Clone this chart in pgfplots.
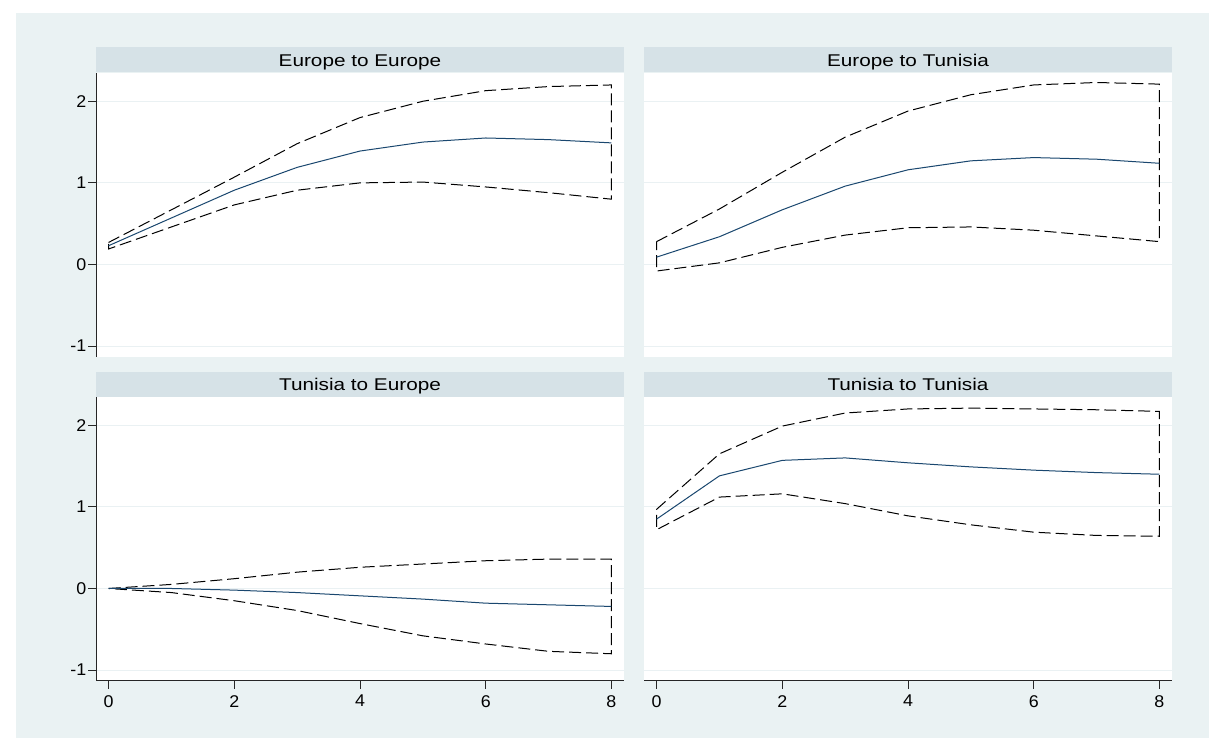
\documentclass[border=0pt]{standalone}
\usepackage{fontspec}
\setmainfont{Liberation Sans}[FakeStretch=1.22]
\newfontfamily\tickfont{Liberation Sans}[FakeStretch=1.05]
\usepackage{pgfplots}
\pgfplotsset{compat=1.18}
\definecolor{ltbg}{RGB}{234,242,243}
\definecolor{bgray}{RGB}{214,226,231}
\definecolor{navy}{RGB}{26,71,111}
\definecolor{gridc}{RGB}{234,241,243}
\pgfplotsset{
  every axis title shift=0pt,
  irf/.style={
    scale only axis, width=528pt, height=284pt,
    xmin=-0.2, xmax=8.2, ymin=-1.13, ymax=2.35,
    xtick={0,2,4,6,8}, ytick={-1,0,1,2},
    axis x line*=bottom, axis y line*=left,
    axis line style={-, line width=0.9pt, black!85},
    tick align=outside, major tick length=8pt,
    tick style={line width=0.9pt, black!85},
    ymajorgrids, major grid style={gridc, line width=1pt},
    axis background/.style={fill=white},
    ticklabel style={font=\tickfont\fontsize{17}{20}\selectfont},
    yticklabel style={inner xsep=1.5pt},
    xticklabel style={yshift=-3pt},
    /pgf/number format/assume math mode=true,
    title style={at={(0.5,1)}, anchor=south, fill=bgray, minimum width=528pt,
      minimum height=25pt, inner sep=0pt, text height=12.2pt, text depth=0pt,
      yshift=0pt, font=\fontsize{17}{20}\selectfont},
    clip=false,
  },
  noxaxis/.style={x axis line style={draw=none}, xticklabels={}, xtick style={draw=none}},
  noyaxis/.style={y axis line style={draw=none}, yticklabels={}, ytick style={draw=none}},
  cline/.style={navy, line width=1pt, no marks},
  band/.style={black, line width=1pt, no marks, dash pattern=on 12pt off 5pt},
}
\begin{document}
\begin{tikzpicture}
\useasboundingbox (0,0) rectangle (1209pt,-738pt);
\fill[ltbg] (16pt,-13pt) rectangle (1209pt,-738pt);

% Europe to Europe
\begin{axis}[irf, noxaxis, at={(96pt,-72.7pt)}, anchor=north west, title={Europe to Europe}]
\addplot[band] coordinates {(0,0.27) (1,0.67) (2,1.07) (3,1.48) (4,1.80) (5,2.00) (6,2.13) (7,2.18) (8,2.20)
  (8,0.80) (7,0.88) (6,0.95) (5,1.01) (4,1.00) (3,0.91) (2,0.73) (1,0.46) (0,0.19) (0,0.27)};
\addplot[cline] coordinates {(0,0.23) (1,0.57) (2,0.91) (3,1.19) (4,1.39) (5,1.50) (6,1.55) (7,1.53) (8,1.49)};
\end{axis}

% Europe to Tunisia
\begin{axis}[irf, noxaxis, noyaxis, at={(644pt,-72.7pt)}, anchor=north west, title={Europe to Tunisia}]
\addplot[band] coordinates {(0,0.28) (1,0.68) (2,1.13) (3,1.56) (4,1.88) (5,2.08) (6,2.20) (7,2.23) (8,2.21)
  (8,0.28) (7,0.35) (6,0.42) (5,0.46) (4,0.45) (3,0.36) (2,0.21) (1,0.02) (0,-0.08) (0,0.28)};
\addplot[cline] coordinates {(0,0.09) (1,0.34) (2,0.67) (3,0.96) (4,1.16) (5,1.27) (6,1.31) (7,1.29) (8,1.24)};
\end{axis}

% Tunisia to Europe
\begin{axis}[irf, at={(96pt,-396.7pt)}, anchor=north west, title={Tunisia to Europe}]
\addplot[band] coordinates {(0,0) (1,0.05) (2,0.12) (3,0.20) (4,0.26) (5,0.30) (6,0.34) (7,0.36) (8,0.36)
  (8,-0.80) (7,-0.77) (6,-0.68) (5,-0.58) (4,-0.43) (3,-0.27) (2,-0.15) (1,-0.05) (0,0)};
\addplot[cline] coordinates {(0,0) (1,0.00) (2,-0.02) (3,-0.05) (4,-0.09) (5,-0.13) (6,-0.18) (7,-0.20) (8,-0.22)};
\end{axis}

% Tunisia to Tunisia
\begin{axis}[irf, noyaxis, at={(644pt,-396.7pt)}, anchor=north west, title={Tunisia to Tunisia}]
\addplot[band] coordinates {(0,0.97) (1,1.65) (2,1.99) (3,2.15) (4,2.20) (5,2.21) (6,2.20) (7,2.19) (8,2.17)
  (8,0.64) (7,0.65) (6,0.69) (5,0.78) (4,0.89) (3,1.04) (2,1.16) (1,1.12) (0,0.72) (0,0.97)};
\addplot[cline] coordinates {(0,0.85) (1,1.38) (2,1.57) (3,1.60) (4,1.54) (5,1.49) (6,1.45) (7,1.42) (8,1.40)};
\end{axis}
\end{tikzpicture}
\end{document}
